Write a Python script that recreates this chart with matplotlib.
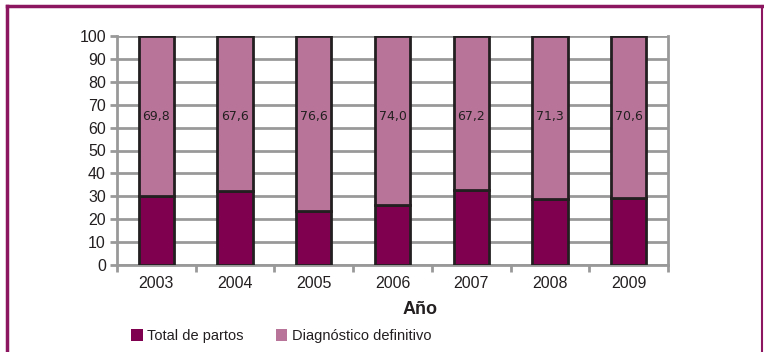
import matplotlib.pyplot as plt
from matplotlib.patches import Patch
import numpy as np

plt.rcParams['font.family'] = ['Liberation Sans Narrow', 'Liberation Sans', 'DejaVu Sans']

anios = ['2003', '2004', '2005', '2006', '2007', '2008', '2009']
diagnostico = [69.8, 67.6, 76.6, 74.0, 67.2, 71.3, 70.6]
total_partos = [round(100 - d, 1) for d in diagnostico]

oscuro = '#800050'
claro = '#b87599'
marco = '#8c1660'

fig = plt.figure(figsize=(7.64, 3.52), dpi=100)
ax = fig.add_axes([117 / 764, 1 - 265 / 352, 551 / 764, 229 / 352])

x = np.arange(len(anios))
ancho = 0.45
ax.bar(x, total_partos, ancho, color=oscuro, edgecolor='#231f20', linewidth=2, zorder=3)
ax.bar(x, diagnostico, ancho, bottom=total_partos, color=claro, edgecolor='#231f20',
       linewidth=2, zorder=3)
for xi, d in zip(x, diagnostico):
    ax.text(xi, 65, f'{d:.1f}'.replace('.', ','), ha='center', va='center',
            fontsize=9, color='#231f20', family='DejaVu Sans', zorder=4)

ax.set_xlim(-0.5, len(anios) - 0.5)
ax.set_ylim(0, 100)
ax.set_yticks(range(0, 101, 10))
ax.set_xticks(x)
ax.set_xticklabels(anios)
ax.set_xticks(np.arange(-0.5, len(anios)), minor=True)
ax.tick_params(axis='x', which='major', length=0, pad=8, labelsize=11.5, colors='#231f20')
ax.tick_params(axis='x', which='minor', length=5, width=2, color='#999999')
ax.tick_params(axis='y', length=5, width=2, color='#999999', labelsize=11.5,
               labelcolor='#231f20', pad=3)
ax.yaxis.grid(True, color='#999999', linewidth=2, zorder=0)
for lado in ['left', 'right', 'bottom', 'top']:
    ax.spines[lado].set_color('#999999')
    ax.spines[lado].set_linewidth(2)
ax.spines['top'].set_visible(False)

fig.text(420 / 764, 1 - 309 / 352, 'Año', ha='center', va='center',
         fontsize=13, fontweight='bold', color='#231f20', family='Liberation Sans')

manijas = [Patch(facecolor=oscuro, edgecolor='none', label='Total de partos'),
           Patch(facecolor=claro, edgecolor='none', label='Diagnóstico definitivo')]
fig.legend(handles=manijas, loc='center left', bbox_to_anchor=(118 / 764, 1 - 336 / 352),
           ncol=2, frameon=False, fontsize=10.5, handlelength=0.8, handleheight=0.8,
           handletextpad=0.3, columnspacing=2.2, labelcolor='#231f20')

# marco exterior (abierto por abajo)
fig.add_artist(plt.Line2D([7 / 764, 7 / 764], [0, 1 - 6 / 352], color=marco, lw=2.5,
                          transform=fig.transFigure))
fig.add_artist(plt.Line2D([7 / 764, 762 / 764], [1 - 6 / 352, 1 - 6 / 352], color=marco,
                          lw=2.5, transform=fig.transFigure))
fig.add_artist(plt.Line2D([762 / 764, 762 / 764], [0, 1 - 6 / 352], color=marco, lw=1.5,
                          transform=fig.transFigure))

fig.savefig('out.png', dpi=100)
